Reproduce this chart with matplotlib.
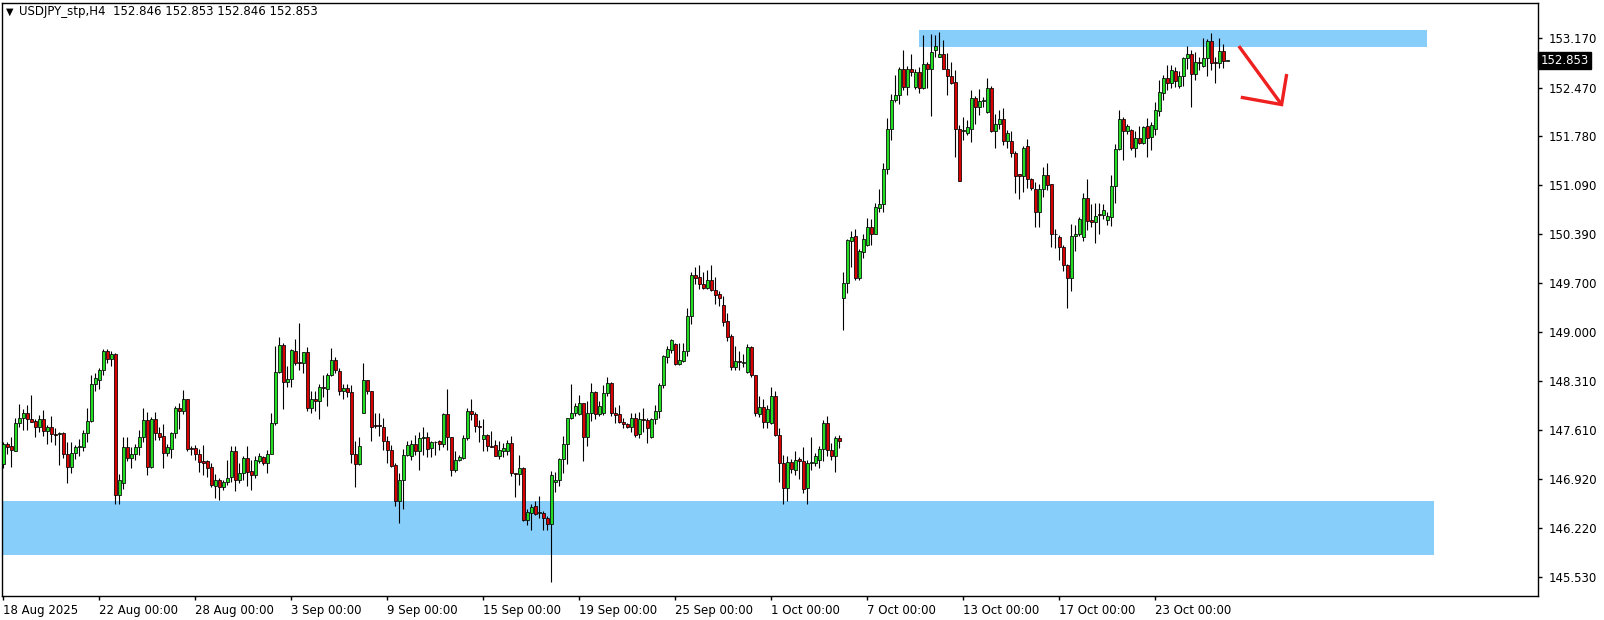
import matplotlib
matplotlib.use("Agg")
import matplotlib.pyplot as plt
import matplotlib.transforms as mtransforms
import numpy as np

# USDJPY H4 candles, bar index 0 = 18 Aug 2025 00:00
opens = [
    147.13, 147.41, 147.38, 147.32, 147.71, 147.78, 147.85, 147.77, 147.74, 147.65,
    147.77, 147.60, 147.65, 147.56, 147.56, 147.57, 147.27, 147.09, 147.29, 147.37,
    147.37, 147.57, 147.74, 148.27, 148.32, 148.46, 148.73, 148.62, 148.69, 146.69,
    146.86, 147.37, 147.21, 147.27, 147.37, 147.52, 147.76, 147.09, 147.77, 147.57,
    147.53, 147.29, 147.34, 147.57, 147.93, 147.89, 148.06, 147.36, 147.36, 147.28,
    147.17, 147.17, 147.09, 146.82, 146.90, 146.80, 146.88, 146.94, 147.31, 146.90,
    147.01, 147.21, 147.03, 146.97, 147.18, 147.23, 147.14, 147.28, 147.71, 148.43,
    148.82, 148.29, 148.34, 148.74, 148.58, 148.57, 148.72, 147.92, 148.06, 148.02,
    148.22, 148.20, 148.40, 148.60, 148.45, 148.16, 148.21, 148.15, 147.28, 147.13,
    147.86, 148.32, 148.16, 147.68, 147.68, 147.66, 147.46, 147.33, 147.12, 146.60,
    146.90, 147.26, 147.25, 147.42, 147.31, 147.50, 147.51, 147.36, 147.45, 147.46,
    147.42, 147.84, 147.51, 147.05, 147.19, 147.21, 147.50, 147.88, 147.84, 147.67,
    147.48, 147.54, 147.39, 147.40, 147.25, 147.32, 147.31, 147.43, 147.00, 146.99,
    147.08, 146.34, 146.43, 146.54, 146.43, 146.44, 146.36, 146.28, 146.87, 146.91,
    147.20, 147.41, 147.78, 147.85, 147.84, 147.99, 147.51, 147.85, 148.15, 147.84,
    147.85, 148.14, 148.28, 147.85, 147.84, 147.73, 147.70, 147.65, 147.79, 147.55,
    147.77, 147.76, 147.51, 147.77, 147.89, 148.25, 148.65, 148.75, 148.84, 148.55,
    148.59, 148.73, 149.23, 149.81, 149.78, 149.68, 149.63, 149.74, 149.60, 149.54,
    149.39, 149.16, 148.95, 148.51, 148.59, 148.57, 148.43, 148.79, 148.39, 147.84,
    147.94, 147.73, 147.71, 148.10, 147.54, 147.14, 146.79, 147.16, 147.04, 147.20,
    147.18, 146.79, 147.15, 147.15, 147.19, 147.34, 147.72, 147.33, 147.24, 147.50,
    149.48, 149.70, 150.30, 150.36, 149.77, 150.14, 150.24, 150.49, 150.40, 150.77,
    150.82, 151.31, 151.88, 152.30, 152.36, 152.73, 152.48, 152.74, 152.48, 152.69,
    152.46, 152.80, 152.73, 153.00, 152.90, 152.95, 152.74, 152.64, 152.55, 151.88,
    151.85, 151.83, 151.89, 152.33, 152.20, 152.28, 152.13, 152.46, 151.85, 151.96,
    152.03, 151.72, 151.71, 151.55, 151.24, 151.21, 151.64, 151.18, 151.03, 150.70,
    151.03, 151.23, 151.10, 150.40, 150.35, 150.21, 149.95, 149.77, 150.37, 150.40,
    150.35, 150.90, 150.59, 150.57, 150.68, 150.66, 150.59, 150.64, 151.08, 151.60,
    152.02, 151.85, 151.87, 151.61, 151.75, 151.68, 151.92, 151.77, 151.89, 152.14,
    152.40, 152.60, 152.53, 152.71, 152.50, 152.63, 152.89, 152.95, 152.66, 152.83,
    152.78, 152.89, 153.13, 152.83, 152.82, 152.99, 152.846,
]
highs = [
    147.44, 147.44, 147.51, 147.78, 147.98, 147.91, 147.97, 148.11, 147.77, 147.83,
    147.90, 147.69, 147.81, 147.64, 147.58, 147.58, 147.45, 147.45, 147.40, 147.48,
    147.62, 147.92, 148.39, 148.42, 148.50, 148.76, 148.76, 148.73, 148.71, 146.99,
    147.51, 147.51, 147.37, 147.42, 147.61, 147.92, 147.87, 147.80, 147.87, 147.66,
    147.70, 147.42, 147.58, 147.95, 147.99, 148.18, 148.06, 147.38, 147.40, 147.35,
    147.40, 147.19, 147.15, 146.99, 146.93, 146.91, 147.19, 147.39, 147.39, 147.14,
    147.25, 147.38, 147.19, 147.24, 147.29, 147.25, 147.33, 147.86, 148.80, 148.93,
    148.85, 148.52, 148.76, 148.91, 149.13, 148.72, 148.79, 148.16, 148.17, 148.27,
    148.39, 148.42, 148.77, 148.65, 148.50, 148.27, 148.27, 148.25, 147.46, 147.51,
    148.57, 148.33, 148.17, 147.86, 147.86, 147.79, 147.53, 147.40, 147.14, 147.01,
    147.34, 147.46, 147.47, 147.54, 147.59, 147.65, 147.59, 147.46, 147.46, 147.47,
    147.86, 148.20, 147.52, 147.31, 147.26, 147.54, 147.93, 148.06, 147.87, 147.75,
    147.77, 147.55, 147.60, 147.47, 147.46, 147.43, 147.47, 147.53, 147.01, 147.26,
    147.09, 146.50, 146.57, 146.60, 146.68, 146.47, 146.39, 147.03, 147.02, 147.22,
    147.53, 147.79, 148.27, 148.00, 148.11, 148.00, 148.03, 148.28, 148.16, 148.02,
    148.25, 148.37, 148.29, 147.94, 147.97, 147.78, 147.72, 147.85, 147.85, 147.87,
    147.92, 147.78, 147.78, 147.97, 148.28, 148.68, 148.80, 148.91, 148.85, 148.85,
    148.85, 149.34, 149.86, 149.93, 149.95, 149.85, 149.88, 149.95, 149.78, 149.58,
    149.51, 149.28, 148.98, 148.81, 148.74, 148.69, 148.83, 148.80, 148.40, 148.10,
    148.05, 147.97, 148.23, 148.17, 147.64, 147.26, 147.25, 147.20, 147.32, 147.23,
    147.37, 147.19, 147.51, 147.29, 147.38, 147.76, 147.81, 147.43, 147.53, 147.54,
    149.86, 150.33, 150.44, 150.47, 150.18, 150.40, 150.62, 150.60, 150.83, 151.03,
    151.40, 152.04, 152.38, 152.65, 152.77, 153.00, 152.78, 152.95, 152.74, 152.77,
    153.22, 152.84, 153.23, 153.22, 153.26, 153.15, 152.96, 152.84, 152.72, 151.94,
    152.05, 152.01, 152.44, 152.35, 152.45, 152.34, 152.60, 152.49, 152.09, 152.15,
    152.18, 151.87, 151.85, 151.57, 151.25, 151.64, 151.74, 151.19, 151.13, 151.11,
    151.35, 151.40, 151.11, 150.46, 150.38, 150.24, 149.97, 150.53, 150.52, 150.64,
    150.97, 151.18, 150.82, 150.84, 150.84, 150.82, 150.70, 151.23, 151.67, 152.16,
    152.05, 151.96, 151.88, 151.85, 151.93, 151.93, 152.04, 151.99, 152.27, 152.58,
    152.65, 152.79, 152.79, 152.77, 152.71, 152.90, 153.06, 153.00, 152.98, 152.91,
    153.17, 153.16, 153.25, 152.91, 153.18, 153.09, 152.853,
]
lows = [
    147.07, 147.28, 147.09, 147.31, 147.66, 147.62, 147.61, 147.73, 147.51, 147.59,
    147.53, 147.42, 147.45, 147.40, 147.12, 147.21, 146.86, 147.00, 147.20, 147.24,
    147.31, 147.45, 147.73, 148.16, 148.19, 148.40, 148.56, 148.52, 146.56, 146.56,
    146.78, 147.18, 147.08, 147.19, 147.26, 147.45, 146.97, 147.08, 147.47, 147.47,
    147.08, 147.24, 147.21, 147.50, 147.63, 147.84, 147.32, 147.26, 147.19, 147.02,
    146.98, 146.95, 146.81, 146.65, 146.62, 146.76, 146.83, 146.88, 146.75, 146.86,
    146.90, 146.82, 146.76, 146.93, 147.14, 147.12, 147.01, 147.27, 147.69, 148.42,
    147.91, 148.23, 148.22, 148.54, 148.47, 148.42, 147.89, 147.86, 147.89, 147.77,
    148.08, 147.95, 148.38, 148.42, 148.11, 148.06, 148.08, 147.15, 146.80, 147.12,
    147.85, 148.12, 147.46, 147.64, 147.53, 147.33, 147.14, 147.09, 146.54, 146.29,
    146.49, 147.24, 147.19, 147.26, 147.05, 147.26, 147.23, 147.23, 147.26, 147.33,
    147.37, 147.33, 146.96, 147.02, 147.18, 147.20, 147.47, 147.76, 147.58, 147.45,
    147.31, 147.32, 147.37, 147.24, 147.20, 147.23, 147.26, 146.96, 146.67, 146.83,
    146.32, 146.26, 146.19, 146.41, 146.36, 146.19, 146.19, 145.46, 146.74, 146.82,
    147.01, 147.13, 147.77, 147.81, 147.83, 147.17, 147.39, 147.74, 147.77, 147.81,
    147.83, 148.09, 147.81, 147.72, 147.71, 147.64, 147.64, 147.58, 147.52, 147.50,
    147.59, 147.43, 147.50, 147.70, 147.79, 148.21, 148.57, 148.70, 148.54, 148.54,
    148.58, 148.66, 149.12, 149.69, 149.62, 149.61, 149.61, 149.58, 149.40, 149.37,
    149.09, 148.87, 148.46, 148.46, 148.46, 148.51, 148.42, 148.37, 147.81, 147.80,
    147.64, 147.64, 147.70, 147.53, 146.88, 146.57, 146.60, 147.00, 146.98, 146.92,
    146.72, 146.57, 147.04, 147.10, 147.07, 147.17, 147.25, 147.19, 147.02, 147.36,
    149.03, 149.56, 149.93, 149.74, 149.74, 150.06, 150.22, 150.24, 150.40, 150.70,
    150.71, 151.25, 151.73, 152.27, 152.24, 152.43, 152.37, 152.64, 152.45, 152.39,
    152.45, 152.46, 152.07, 152.90, 152.90, 152.73, 152.37, 152.52, 151.49, 151.14,
    151.73, 151.80, 151.70, 151.96, 152.08, 152.20, 152.11, 151.84, 151.61, 151.89,
    151.66, 151.61, 151.49, 150.98, 150.89, 150.99, 151.04, 151.02, 150.50, 150.50,
    150.92, 151.02, 150.21, 150.19, 150.03, 149.87, 149.35, 149.58, 150.15, 150.37,
    150.30, 150.45, 150.49, 150.26, 150.40, 150.60, 150.52, 150.51, 150.84, 151.59,
    151.45, 151.81, 151.59, 151.48, 151.67, 151.67, 151.49, 151.59, 151.80, 152.07,
    152.30, 152.44, 152.46, 152.48, 152.46, 152.50, 152.74, 152.19, 152.58, 152.72,
    152.77, 152.64, 152.72, 152.54, 152.75, 152.75, 152.846,
]
closes = [
    147.41, 147.37, 147.33, 147.71, 147.78, 147.85, 147.77, 147.73, 147.65, 147.77,
    147.60, 147.65, 147.55, 147.55, 147.57, 147.27, 147.09, 147.29, 147.37, 147.37,
    147.57, 147.74, 148.27, 148.35, 148.46, 148.74, 148.62, 148.69, 146.69, 146.90,
    147.37, 147.21, 147.27, 147.37, 147.52, 147.76, 147.09, 147.77, 147.57, 147.52,
    147.29, 147.37, 147.57, 147.93, 147.89, 148.05, 147.34, 147.34, 147.28, 147.16,
    147.15, 147.08, 146.83, 146.90, 146.81, 146.88, 146.93, 147.31, 146.90, 147.01,
    147.21, 147.02, 146.97, 147.19, 147.24, 147.15, 147.28, 147.71, 148.43, 148.82,
    148.29, 148.34, 148.75, 148.57, 148.57, 148.72, 147.92, 148.06, 148.02, 148.22,
    148.21, 148.40, 148.60, 148.46, 148.16, 148.21, 148.15, 147.27, 147.13, 147.39,
    148.32, 148.17, 147.66, 147.67, 147.67, 147.46, 147.33, 147.11, 146.61, 146.90,
    147.26, 147.40, 147.42, 147.31, 147.50, 147.51, 147.35, 147.44, 147.44, 147.42,
    147.84, 147.52, 147.05, 147.19, 147.23, 147.50, 147.88, 147.84, 147.67, 147.65,
    147.54, 147.38, 147.38, 147.25, 147.33, 147.36, 147.43, 147.00, 146.99, 147.08,
    146.34, 146.45, 146.52, 146.42, 146.45, 146.36, 146.28, 146.97, 146.91, 147.20,
    147.41, 147.78, 147.85, 147.96, 147.99, 147.51, 147.85, 148.15, 147.84, 147.95,
    148.14, 148.28, 147.85, 147.83, 147.73, 147.70, 147.65, 147.79, 147.54, 147.77,
    147.75, 147.64, 147.77, 147.89, 148.25, 148.66, 148.76, 148.89, 148.55, 148.61,
    148.73, 149.23, 149.81, 149.77, 149.68, 149.63, 149.74, 149.60, 149.53, 149.49,
    149.15, 148.94, 148.51, 148.59, 148.58, 148.57, 148.79, 148.39, 147.85, 147.94,
    147.73, 147.91, 148.10, 147.54, 147.14, 146.79, 147.16, 147.06, 147.19, 147.17,
    146.77, 147.15, 147.15, 147.24, 147.34, 147.72, 147.33, 147.24, 147.50, 147.46,
    149.70, 150.31, 150.35, 149.77, 150.16, 150.33, 150.49, 150.40, 150.78, 150.82,
    151.31, 151.88, 152.29, 152.36, 152.73, 152.48, 152.74, 152.69, 152.69, 152.46,
    152.80, 152.74, 152.98, 153.06, 152.95, 152.74, 152.64, 152.54, 151.88, 151.15,
    151.87, 151.91, 152.33, 152.20, 152.28, 152.28, 152.46, 151.85, 151.96, 152.03,
    151.72, 151.82, 151.55, 151.22, 151.21, 151.62, 151.18, 151.04, 150.70, 151.03,
    151.23, 151.09, 150.39, 150.39, 150.21, 149.95, 149.77, 150.37, 150.40, 150.61,
    150.90, 150.58, 150.57, 150.65, 150.67, 150.73, 150.65, 151.08, 151.60, 152.02,
    151.85, 151.92, 151.61, 151.75, 151.68, 151.91, 151.75, 151.94, 152.15, 152.41,
    152.60, 152.53, 152.72, 152.57, 152.64, 152.89, 152.95, 152.66, 152.83, 152.82,
    152.89, 153.13, 152.82, 152.82, 152.99, 152.85, 152.853,
]

date_bars = [0, 24, 48, 72, 96, 120, 144, 168, 192, 216, 240, 264, 288]
date_labels = ["18 Aug 2025", "22 Aug 00:00", "28 Aug 00:00", "3 Sep 00:00",
               "9 Sep 00:00", "15 Sep 00:00", "19 Sep 00:00", "25 Sep 00:00",
               "1 Oct 00:00", "7 Oct 00:00", "13 Oct 00:00", "17 Oct 00:00",
               "23 Oct 00:00"]
price_ticks = [153.170, 152.470, 151.780, 151.090, 150.390, 149.700, 149.000,
               148.310, 147.610, 146.920, 146.220, 145.530]

# drawn objects: supply zone on top, demand zone at the bottom
top_zone = (228.9, 355.9, 153.05, 153.29)
bottom_zone = (-2.0, 357.7, 145.84, 146.60)
arrow_line = ([308.9, 319.6], [153.06, 152.23])
arrow_head = ([309.8, 319.6, 320.8], [152.33, 152.23, 152.64])
last_price = 152.853

o = np.array(opens)
h = np.array(highs)
l = np.array(lows)
c = np.array(closes)
x = np.arange(len(o))

fig = plt.figure(figsize=(16.04, 6.2), dpi=100)
ax = fig.add_axes([2 / 1604, 24 / 620, 1536 / 1604, 593 / 620])
ax.set_xlim(-0.33, 383.7)
ax.set_ylim(145.259, 153.671)

bull = "#22dd22"
bear = "#d80000"

for z in (top_zone, bottom_zone):
    ax.fill_between([z[0], z[1]], z[2], z[3], color="#87cefa", lw=0, zorder=1)

ax.vlines(x, l, h, color="black", lw=0.8, zorder=2)

height = c - o
height = np.where(np.abs(height) < 0.012, np.where(height >= 0, 0.012, -0.012), height)
colors = [bull if cc >= oo else bear for oo, cc in zip(o, c)]
ax.bar(x, height, bottom=o, width=0.72, color=colors, edgecolor="black",
       linewidth=0.55, zorder=3)

ax.plot(arrow_line[0], arrow_line[1], color="#ee2020", lw=2.4, solid_capstyle="butt", zorder=4)
ax.plot(arrow_head[0], arrow_head[1], color="#ee2020", lw=2.4, solid_joinstyle="miter", zorder=4)

ax.yaxis.tick_right()
ax.set_yticks(price_ticks)
ax.set_yticklabels(["%.3f" % p for p in price_ticks])
ax.set_xticks(date_bars)
ax.set_xticklabels(date_labels, ha="left")
ax.tick_params(axis="both", direction="out", length=3, width=1, labelsize=8.5,
               colors="black")
ax.tick_params(axis="x", pad=3)
ax.tick_params(axis="y", pad=5)
for s in ax.spines.values():
    s.set_linewidth(1)
    s.set_color("black")

trans = mtransforms.blended_transform_factory(ax.transAxes, ax.transData)
ax.text(1.0015, last_price, "%.3f" % last_price, transform=trans, fontsize=8.5,
        color="white", va="center", ha="left",
        bbox=dict(boxstyle="square,pad=0.18", fc="black", ec="black"))

fig.text(6 / 1604, 1 - 12 / 620, "\u25bc", fontsize=7, va="center", ha="left")
fig.text(19 / 1604, 1 - 12 / 620, "USDJPY_stp,H4  152.846 152.853 152.846 152.853",
         fontsize=8.5, va="center", ha="left")

fig.savefig("out.png", dpi=100, facecolor="white")
